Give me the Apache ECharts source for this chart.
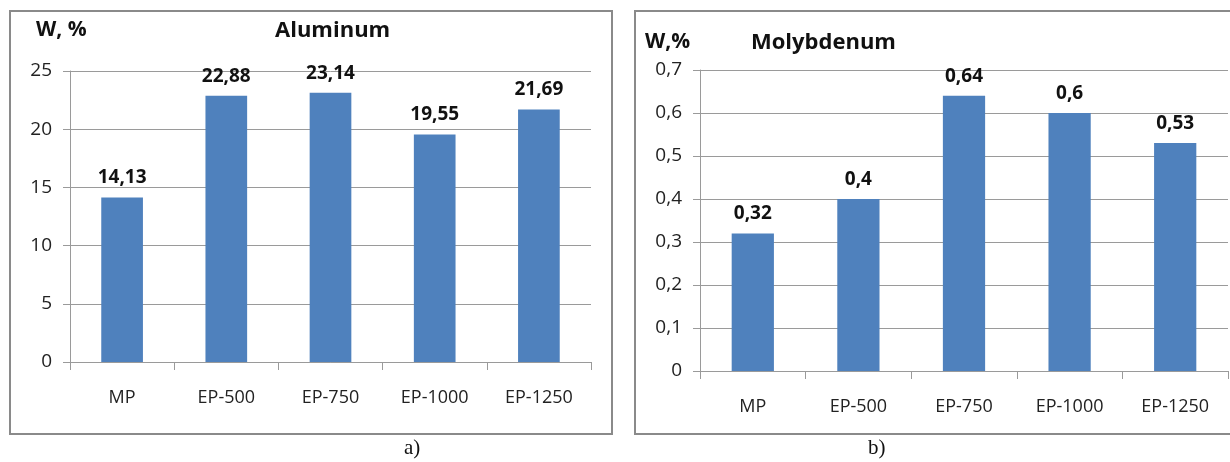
<!DOCTYPE html>
<html>
<head>
<meta charset="utf-8">
<script src="https://cdn.jsdelivr.net/npm/echarts@6/dist/echarts.min.js"></script>
<style>
	html, body { margin: 0; padding: 0; background: #fff; }
	#chart { width: 1230px; height: 462px; }
</style>
</head>
<body>
<div id="chart"></div>
<script>
// categories shared by both panels
var categories = ["MP", "EP-500", "EP-750", "EP-1000", "EP-1250"];
// a) Aluminum, W %
var aluminum = [14.13, 22.88, 23.14, 19.55, 21.69];
// b) Molybdenum, W %
var molybdenum = [0.32, 0.4, 0.64, 0.6, 0.53];
var alTicks = { min: 0, max: 25, interval: 5 };
var moTicks = { min: 0, max: 0.7, interval: 0.1 };

var FONT = "Open Sans";
var BAR = "#4F81BD";
var GRID = "#9a9a9a";

function comma(v) {
	return String(v).replace(".", ",");
}

function xAxis(idx) {
	return {
		type: "category",
		gridIndex: idx,
		data: categories,
		axisLine: { lineStyle: { color: GRID, width: 1 } },
		axisTick: { show: true, length: 8, alignWithLabel: false, lineStyle: { color: GRID } },
		axisLabel: { color: "#222", fontFamily: FONT, fontSize: 18, margin: 27 }
	};
}

function yAxis(idx, t, fmt) {
	return {
		type: "value",
		gridIndex: idx,
		min: t.min,
		max: t.max,
		interval: t.interval,
		axisLine: { show: true, lineStyle: { color: GRID, width: 1 } },
		axisTick: { show: true, length: 7, lineStyle: { color: GRID } },
		splitLine: { lineStyle: { color: GRID, width: 1 } },
		axisLabel: { color: "#222", fontFamily: FONT, fontSize: 19, margin: 18, formatter: fmt }
	};
}

function barSeries(idx, data) {
	return {
		type: "bar",
		xAxisIndex: idx,
		yAxisIndex: idx,
		data: data,
		barWidth: "40%",
		itemStyle: { color: BAR },
		label: {
			show: true,
			position: "top",
			distance: 10,
			color: "#111",
			fontFamily: FONT,
			fontWeight: "bold",
			fontSize: 19,
			formatter: function (p) { return comma(p.value); }
		}
	};
}

var chart = echarts.init(document.getElementById("chart"));
chart.setOption({
	backgroundColor: "#fff",
	animation: false,
	title: [
		{ text: "W, %", left: 36, top: 20, padding: 0, textStyle: { fontFamily: FONT, fontWeight: "bold", fontSize: 21, color: "#111" } },
		{ text: "Aluminum", left: 275, top: 20, padding: 0, textStyle: { fontFamily: FONT, fontWeight: "bold", fontSize: 22, color: "#111" } },
		{ text: "W,%", left: 645, top: 32, padding: 0, textStyle: { fontFamily: FONT, fontWeight: "bold", fontSize: 21, color: "#111" } },
		{ text: "Molybdenum", left: 751, top: 32, padding: 0, textStyle: { fontFamily: FONT, fontWeight: "bold", fontSize: 22, color: "#111" } },
		{ text: "a)", left: 404, top: 438, padding: 0, textStyle: { fontFamily: "Liberation Serif", fontWeight: "normal", fontSize: 21, color: "#111" } },
		{ text: "b)", left: 868, top: 438, padding: 0, textStyle: { fontFamily: "Liberation Serif", fontWeight: "normal", fontSize: 21, color: "#111" } }
	],
	graphic: [
		{ type: "rect", shape: { x: 10, y: 11, width: 602, height: 423 }, style: { fill: "none", stroke: "#8a8a8a", lineWidth: 2 }, z: 0 },
		{ type: "rect", shape: { x: 635, y: 11, width: 600, height: 423 }, style: { fill: "none", stroke: "#8a8a8a", lineWidth: 2 }, z: 0 }
	],
	grid: [
		{ left: 70, top: 71, width: 521, height: 291 },
		{ left: 700, top: 70, width: 528, height: 301 }
	],
	xAxis: [xAxis(0), xAxis(1)],
	yAxis: [
		yAxis(0, alTicks, function (v) { return String(v); }),
		yAxis(1, moTicks, function (v) { return v === 0 ? "0" : comma(v.toFixed(1)); })
	],
	series: [barSeries(0, aluminum), barSeries(1, molybdenum)]
});
</script>
</body>
</html>
